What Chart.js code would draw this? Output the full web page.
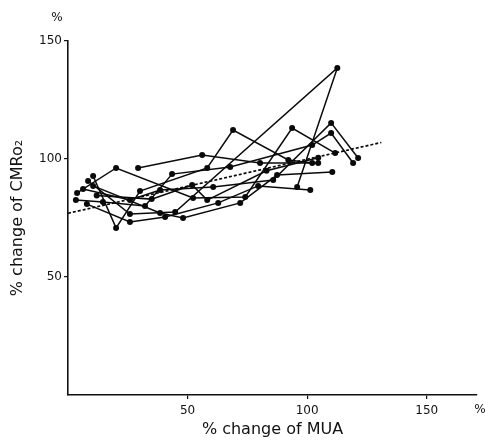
<!DOCTYPE html>
<html>
<head>
<meta charset="utf-8">
<script src="https://cdn.jsdelivr.net/npm/chart.js@4"></script>
<style>
  body { margin: 0; background: #fff; }
  #chart { display: block; }
</style>
</head>
<body>
<canvas id="chart" width="485" height="441"></canvas>
<script>
// each subject: [% change of MUA, % change of CMRO2]
const subject1 = [[3.8, 85.6], [20.1, 96.2], [52.3, 83.5], [74.1, 83.9], [93.7, 113.1], [111.7, 102.5]];
const subject2 = [[29.3, 96.2], [56.1, 101.7], [80.3, 98.3], [104.6, 98.3]];
const subject3 = [[10.5, 92.8], [20.1, 70.8], [30.1, 86.4], [58.2, 96.2], [69.0, 112.3], [92.1, 99.6], [102.1, 98.3]];
const subject4 = [[8.4, 90.7], [25.9, 76.7], [44.8, 77.5], [112.6, 138.6], [95.8, 88.1]];
const subject5 = [[6.3, 87.3], [25.9, 82.6], [38.5, 86.9], [60.7, 88.1], [85.8, 91.1], [110.0, 115.3], [121.3, 100.4]];
const subject6 = [[3.3, 82.6], [14.6, 81.8], [32.2, 80.1], [43.5, 93.6], [67.8, 96.6], [102.1, 105.9], [110.0, 111.0], [119.2, 98.3]];
const subject7 = [[7.9, 80.9], [25.9, 73.3], [40.6, 75.4], [62.8, 81.4], [79.5, 88.6], [101.3, 86.9]];
const subject8 = [[10.5, 88.6], [38.5, 77.1], [48.1, 75.0], [72.0, 81.4], [87.4, 93.2], [110.5, 94.5]];
const subject9 = [[12.0, 84.5], [35.0, 83.0], [51.9, 89.0], [58.2, 82.6], [83.0, 95.0], [104.6, 100.5]];

// regression line
const fitX = [0, 131];
const fitY = [77, 107];

const xTicks = [50, 100, 150];
const yTicks = [50, 100, 150];

const subjects = [subject1, subject2, subject3, subject4, subject5, subject6, subject7, subject8, subject9];

const datasets = subjects.map((s, i) => ({
  label: "subject " + (i + 1),
  data: s.map(([x, y]) => ({ x, y })),
  showLine: true,
  borderColor: "#0a0a0a",
  backgroundColor: "#0a0a0a",
  borderWidth: 1.5,
  pointRadius: 3,
  pointBorderWidth: 0,
}));

datasets.push({
  label: "fit",
  data: fitX.map((x, i) => ({ x, y: fitY[i] })),
  showLine: true,
  borderColor: "#0a0a0a",
  borderWidth: 1.7,
  borderDash: [3, 2],
  pointRadius: 0,
});

// the "%" unit marks at the ends of both axes
const unitLabels = {
  id: "unitLabels",
  afterDraw(chart) {
    const { ctx, scales: { x, y } } = chart;
    ctx.save();
    ctx.font = '12px "DejaVu Sans"';
    ctx.fillStyle = "#111";
    ctx.textAlign = "center";
    ctx.textBaseline = "middle";
    ctx.fillText("%", y.right - 11, y.top - 23);
    ctx.fillText("%", x.right + 3, x.top + 15);
    ctx.restore();
  },
};

const ctx = document.getElementById("chart").getContext("2d");
new Chart(ctx, {
  type: "scatter",
  data: { datasets },
  options: {
    responsive: false,
    animation: false,
    layout: { padding: { top: 41, right: 8, left: 0, bottom: 0 } },
    plugins: {
      legend: { display: false },
      tooltip: { enabled: false },
    },
    scales: {
      x: {
        type: "linear",
        min: 0,
        max: 171,
        afterBuildTicks: (axis) => {
          axis.ticks = xTicks.map((v) => ({ value: v }));
        },
        afterFit: (axis) => {
          axis.height = 46;
        },
        grid: { drawOnChartArea: false, tickLength: 4, color: "#111", lineWidth: 1.2 },
        border: { color: "#111", width: 1.6 },
        ticks: {
          padding: 5,
          color: "#111",
          font: { family: "DejaVu Sans", size: 12 },
          maxRotation: 0,
        },
        title: {
          display: true,
          text: "% change of MUA",
          color: "#111",
          font: { family: "DejaVu Sans", size: 16 },
          padding: { top: 0, bottom: 2 },
        },
      },
      y: {
        type: "linear",
        min: 0,
        max: 150,
        afterBuildTicks: (axis) => {
          axis.ticks = yTicks.map((v) => ({ value: v }));
        },
        afterFit: (axis) => {
          axis.width = 68;
        },
        grid: { drawOnChartArea: false, tickLength: 4, color: "#111", lineWidth: 1.2 },
        border: { color: "#111", width: 1.6 },
        ticks: {
          padding: 2,
          color: "#111",
          font: { family: "DejaVu Sans", size: 12 },
        },
        title: {
          display: true,
          text: "% change of CMRo₂",
          color: "#111",
          font: { family: "DejaVu Sans", size: 16 },
          padding: { top: 8, bottom: 0 },
        },
      },
    },
  },
  plugins: [unitLabels],
});
</script>
</body>
</html>
